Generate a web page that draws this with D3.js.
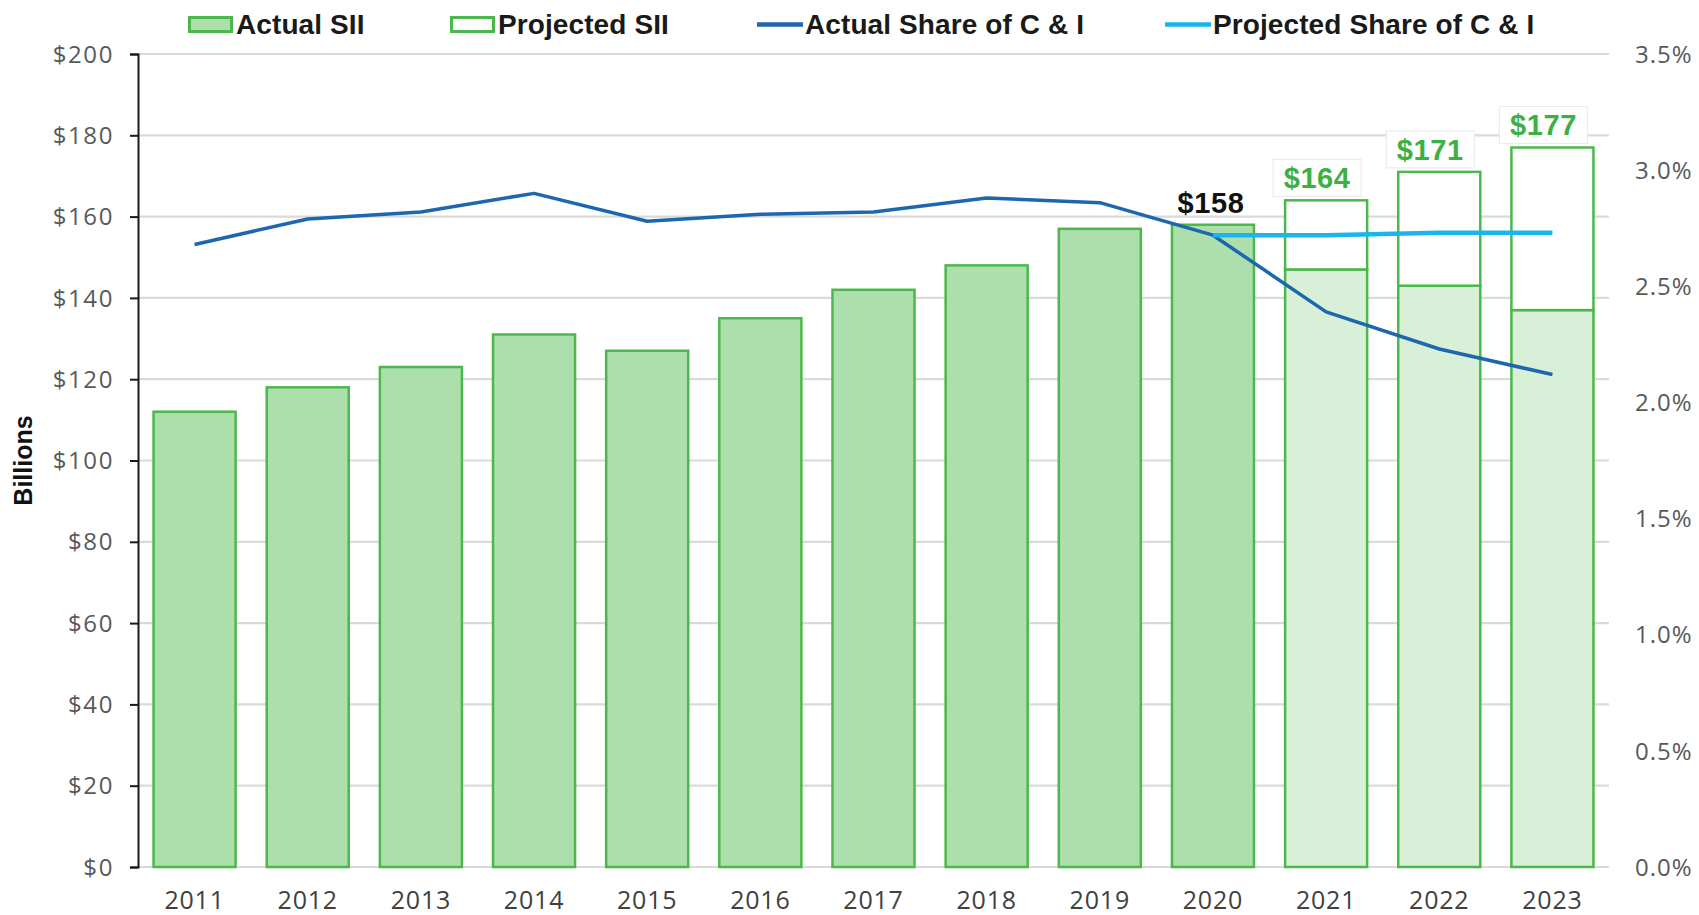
<!DOCTYPE html>
<html>
<head>
<meta charset="utf-8">
<script src="https://cdn.jsdelivr.net/npm/d3@7"></script>
<style>
  html, body { margin: 0; padding: 0; background: #fff; }
  svg { display: block; }
</style>
</head>
<body>
<svg id="chart" width="1699" height="915"></svg>
<script>
// ---- data -------------------------------------------------------------
const years = ["2011","2012","2013","2014","2015","2016","2017","2018","2019","2020","2021","2022","2023"];
// Actual SII ($ billions)
const actualSII = [112, 118, 123, 131, 127, 135, 142, 148, 157, 158];
// Projected SII totals and the filled lower portion of each projected bar
const projectedYears = ["2021", "2022", "2023"];
const projectedSII = [164, 171, 177];
const projectedBase = [147, 143, 137];
// Share of C & I loans (%)
const actualShare = [2.68, 2.79, 2.82, 2.90, 2.78, 2.81, 2.82, 2.88, 2.86, 2.72, 2.39, 2.23, 2.12];
const projectedShareYears = ["2020", "2021", "2022", "2023"];
const projectedShare = [2.72, 2.72, 2.73, 2.73];
// axis ticks
const leftTicks = [0, 20, 40, 60, 80, 100, 120, 140, 160, 180, 200];
const rightTicks = [0, 0.5, 1.0, 1.5, 2.0, 2.5, 3.0, 3.5];

// ---- layout -----------------------------------------------------------
const plot = { left: 138, right: 1609, top: 54, bottom: 867 };
const GREEN = "#4cb84c";
const FILL_ACTUAL = "#addfad";
const FILL_PROJ = "#d8f0d8";
const DARK_BLUE = "#1c67ad";
const LIGHT_BLUE = "#19b5ec";
const LABEL_FONT = "'Liberation Sans', Arial, sans-serif";
const TICK_FONT = "'Open Sans', 'Noto Sans', sans-serif";

const svg = d3.select("#chart");

const x = d3.scaleBand()
  .domain(years)
  .range([plot.left, plot.right])
  .paddingInner(0.275)
  .paddingOuter(0.1375);
const cx = d => x(d) + x.bandwidth() / 2;

const y = d3.scaleLinear().domain([0, 200]).range([plot.bottom, plot.top]);
const yR = d3.scaleLinear().domain([0, 3.5]).range([plot.bottom, plot.top]);

// ---- gridlines --------------------------------------------------------
svg.append("g")
  .selectAll("line")
  .data(leftTicks)
  .join("line")
  .attr("x1", plot.left).attr("x2", plot.right)
  .attr("y1", d => y(d)).attr("y2", d => y(d))
  .attr("stroke", "#dadada")
  .attr("stroke-width", 2.2);

// ---- left axis --------------------------------------------------------
const leftAxis = svg.append("g")
  .attr("transform", `translate(${plot.left},0)`)
  .call(d3.axisLeft(y).tickValues(leftTicks).tickSize(8).tickPadding(16).tickFormat(d => "$" + d));
leftAxis.select(".domain").attr("stroke", "#1a1a1a").attr("stroke-width", 2);
leftAxis.selectAll(".tick line").attr("stroke", "#1a1a1a").attr("stroke-width", 2);
leftAxis.selectAll(".tick text")
  .attr("fill", "#595959")
  .style("font-family", TICK_FONT)
  .style("font-size", "24px")
  .style("letter-spacing", "1.6px")
  .attr("dy", "0.34em");

// ---- right axis (labels only) -----------------------------------------
const rightAxis = svg.append("g")
  .attr("transform", `translate(${plot.right},0)`)
  .call(d3.axisRight(yR).tickValues(rightTicks).tickSize(0).tickPadding(26).tickFormat(d => d.toFixed(1) + "%"));
rightAxis.select(".domain").remove();
rightAxis.selectAll(".tick text")
  .attr("fill", "#595959")
  .style("font-family", TICK_FONT)
  .style("font-size", "24px")
  .style("letter-spacing", "1px")
  .attr("dy", "0.34em");

// ---- x labels ---------------------------------------------------------
const xAxis = svg.append("g")
  .attr("transform", `translate(0,${plot.bottom})`)
  .call(d3.axisBottom(x).tickSize(0).tickPadding(24));
xAxis.select(".domain").remove();
xAxis.selectAll(".tick text")
  .attr("fill", "#404040")
  .style("font-family", TICK_FONT)
  .style("font-size", "25px")
  .style("letter-spacing", "0.8px")
  .attr("dy", "0.71em");

// ---- y axis title -----------------------------------------------------
svg.append("text")
  .attr("transform", `translate(32,${(plot.top + plot.bottom) / 2}) rotate(-90)`)
  .attr("text-anchor", "middle")
  .style("font-family", LABEL_FONT)
  .style("font-weight", "bold")
  .style("font-size", "25px")
  .attr("fill", "#111")
  .text("Billions");

// ---- bars -------------------------------------------------------------
const actualData = actualSII.map((v, i) => ({ year: years[i], value: v }));
svg.append("g")
  .selectAll("rect")
  .data(actualData)
  .join("rect")
  .attr("x", d => x(d.year))
  .attr("width", x.bandwidth())
  .attr("y", d => y(d.value))
  .attr("height", d => y(0) - y(d.value))
  .attr("fill", FILL_ACTUAL)
  .attr("stroke", GREEN)
  .attr("stroke-width", 2.5);

const projData = projectedYears.map((yr, i) => ({ year: yr, total: projectedSII[i], base: projectedBase[i] }));
const projG = svg.append("g");
projG.selectAll("rect.base")
  .data(projData)
  .join("rect")
  .attr("class", "base")
  .attr("x", d => x(d.year))
  .attr("width", x.bandwidth())
  .attr("y", d => y(d.base))
  .attr("height", d => y(0) - y(d.base))
  .attr("fill", FILL_PROJ)
  .attr("stroke", GREEN)
  .attr("stroke-width", 2.5);
projG.selectAll("rect.top")
  .data(projData)
  .join("rect")
  .attr("class", "top")
  .attr("x", d => x(d.year))
  .attr("width", x.bandwidth())
  .attr("y", d => y(d.total))
  .attr("height", d => y(d.base) - y(d.total))
  .attr("fill", "#fff")
  .attr("stroke", GREEN)
  .attr("stroke-width", 2.5);

// ---- share lines ------------------------------------------------------
const line = d3.line().x(d => cx(d.year)).y(d => yR(d.value));
svg.append("path")
  .datum(actualShare.map((v, i) => ({ year: years[i], value: v })))
  .attr("d", line)
  .attr("fill", "none")
  .attr("stroke", DARK_BLUE)
  .attr("stroke-width", 3.5)
  .attr("stroke-linejoin", "round");
svg.append("path")
  .datum(projectedShare.map((v, i) => ({ year: projectedShareYears[i], value: v })))
  .attr("d", line)
  .attr("fill", "none")
  .attr("stroke", LIGHT_BLUE)
  .attr("stroke-width", 4.5)
  .attr("stroke-linejoin", "round");

// ---- value labels -----------------------------------------------------
const lastActual = actualData[actualData.length - 1];
svg.append("text")
  .attr("x", cx(lastActual.year) - 2)
  .attr("y", y(lastActual.value) - 12)
  .attr("text-anchor", "middle")
  .style("font-family", LABEL_FONT)
  .style("font-weight", "bold")
  .style("font-size", "29px")
  .style("letter-spacing", "0.6px")
  .attr("fill", "#111")
  .text("$" + lastActual.value);

const lbl = svg.append("g").selectAll("g")
  .data(projData)
  .join("g")
  .attr("transform", d => `translate(${cx(d.year) - 9},${y(d.total) - 12})`);
lbl.append("rect")
  .attr("x", -44).attr("y", -29)
  .attr("width", 88).attr("height", 37)
  .attr("fill", "#fff")
  .attr("stroke", "#ececec")
  .attr("stroke-width", 1.2);
lbl.append("text")
  .attr("text-anchor", "middle")
  .style("font-family", LABEL_FONT)
  .style("font-weight", "bold")
  .style("font-size", "29px")
  .style("letter-spacing", "0.6px")
  .attr("fill", "#3cb043")
  .text(d => "$" + d.total);

// ---- legend -----------------------------------------------------------
const legendItems = [
  { label: "Actual SII", type: "box", fill: FILL_ACTUAL, x: 188 },
  { label: "Projected SII", type: "box", fill: "#fff", x: 450 },
  { label: "Actual Share of C & I", type: "line", color: DARK_BLUE, x: 757 },
  { label: "Projected Share of C & I", type: "line", color: LIGHT_BLUE, x: 1165 }
];
const leg = svg.append("g").selectAll("g")
  .data(legendItems)
  .join("g")
  .attr("transform", d => `translate(${d.x},0)`);
leg.filter(d => d.type === "box").append("rect")
  .attr("x", 1.5).attr("y", 17.5)
  .attr("width", 42).attr("height", 14)
  .attr("fill", d => d.fill)
  .attr("stroke", GREEN)
  .attr("stroke-width", 3);
leg.filter(d => d.type === "line").append("line")
  .attr("x1", 0).attr("x2", 46)
  .attr("y1", 24.5).attr("y2", 24.5)
  .attr("stroke", d => d.color)
  .attr("stroke-width", 4.5);
leg.append("text")
  .attr("x", 48)
  .attr("y", 33.5)
  .style("font-family", LABEL_FONT)
  .style("font-weight", "bold")
  .style("font-size", "28px")
  .style("letter-spacing", "0.1px")
  .attr("fill", "#1a1a1a")
  .text(d => d.label);
</script>
</body>
</html>
